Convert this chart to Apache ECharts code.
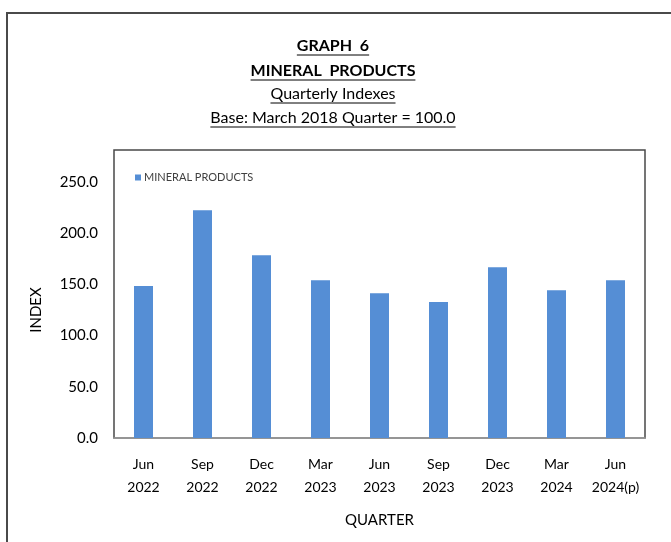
<!DOCTYPE html>
<html>
<head>
<meta charset="utf-8">
<script src="https://cdn.jsdelivr.net/npm/echarts@6/dist/echarts.min.js"></script>
<style>
	html, body { margin: 0; padding: 0; background: #ffffff; }
	#main { width: 671px; height: 542px; }
</style>
</head>
<body>
<div id="main"></div>
<script>
	// quarters and index values (base March 2018 = 100.0)
	var quarters = ['Jun\n2022', 'Sep\n2022', 'Dec\n2022', 'Mar\n2023', 'Jun\n2023', 'Sep\n2023', 'Dec\n2023', 'Mar\n2024', 'Jun\n2024(p)'];
	var mineralProducts = [148.4, 222.3, 178.4, 154.0, 141.3, 132.8, 166.7, 144.2, 154.0];
	var titleLines = ['GRAPH  6', 'MINERAL  PRODUCTS', 'Quarterly Indexes', 'Base: March 2018 Quarter = 100.0'];

	var myChart = echarts.init(document.getElementById('main'));
	var font = 'Lato, "Open Sans", sans-serif';

	var titleY = [46, 71, 94, 118];
	var titleBold = [true, true, false, false];
	var titleSize = 16;

	// outer frame and plot-area frame
	var graphics = [{
		type: 'rect',
		shape: { x: 7, y: 13, width: 700, height: 600 },
		style: { fill: 'none', stroke: '#4a4a4a', lineWidth: 2 },
		silent: true
	}, {
		type: 'rect',
		shape: { x: 114, y: 150, width: 531, height: 288 },
		style: { fill: 'none', stroke: '#484848', lineWidth: 1.5 },
		silent: true,
		z: 0
	}];

	var ctx = document.createElement('canvas').getContext('2d');
	titleLines.forEach(function (t, i) {
		var f = (titleBold[i] ? 'bold ' : '') + titleSize + 'px ' + font;
		ctx.font = f;
		var w = ctx.measureText(t).width;
		graphics.push({
			type: 'text',
			x: 333,
			y: titleY[i],
			style: { text: t, font: f, fill: '#000000', align: 'center', verticalAlign: 'middle' }
		});
		// underline
		graphics.push({
			type: 'line',
			shape: { x1: 333 - w / 2, y1: titleY[i] + 9, x2: 333 + w / 2, y2: titleY[i] + 9 },
			style: { stroke: '#000000', lineWidth: 1 },
			silent: true
		});
	});

	var option = {
		backgroundColor: '#ffffff',
		animation: false,
		graphic: graphics,
		legend: {
			left: 130,
			top: 167,
			itemWidth: 6,
			itemHeight: 6,
			itemGap: 3,
			icon: 'rect',
			textStyle: { fontSize: 11, color: '#404040', fontFamily: font, padding: [0, 0, 0, -2] },
			data: ['MINERAL PRODUCTS']
		},
		grid: {
			left: 114,
			right: 26,
			top: 182,
			bottom: 104
		},
		xAxis: {
			type: 'category',
			data: quarters,
			name: 'QUARTER',
			nameLocation: 'middle',
			nameGap: 75,
			nameTextStyle: { fontSize: 15, color: '#000000', fontFamily: font },
			axisLine: { lineStyle: { color: '#a0a0a0', width: 1.5 } },
			axisTick: { show: false },
			axisLabel: {
				interval: 0,
				margin: 15,
				fontSize: 14,
				lineHeight: 23,
				color: '#000000',
				fontFamily: font
			}
		},
		yAxis: {
			type: 'value',
			min: 0,
			max: 250,
			interval: 50,
			name: 'INDEX',
			nameLocation: 'middle',
			nameGap: 70,
			nameRotate: 90,
			nameTextStyle: { fontSize: 15, color: '#000000', fontFamily: font },
			splitLine: { show: false },
			axisLine: { show: false },
			axisTick: { show: false },
			axisLabel: {
				margin: 16,
				fontSize: 15,
				color: '#000000',
				fontFamily: font,
				formatter: function (v) { return v.toFixed(1); }
			}
		},
		series: [{
			name: 'MINERAL PRODUCTS',
			type: 'bar',
			barWidth: 19,
			data: mineralProducts,
			itemStyle: { color: '#558ed5' }
		}]
	};

	myChart.setOption(option);
</script>
</body>
</html>
